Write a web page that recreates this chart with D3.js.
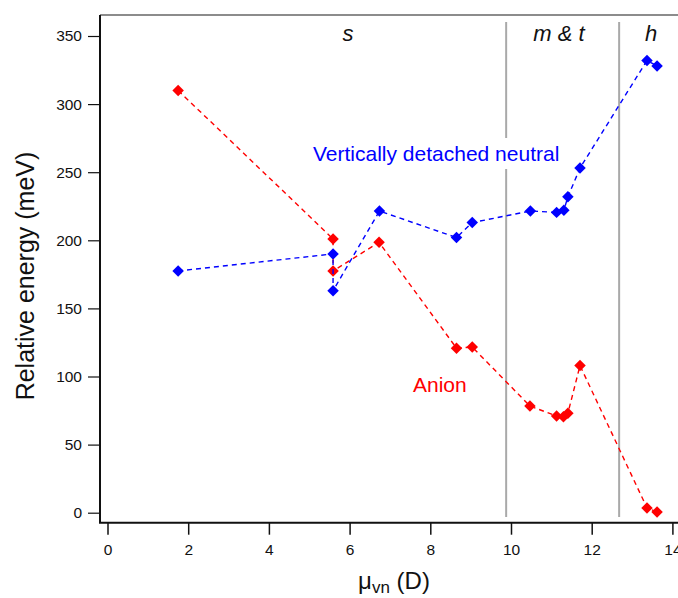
<!DOCTYPE html>
<html><head><meta charset="utf-8">
<script src="https://cdn.jsdelivr.net/npm/d3@7"></script>
<style>
html,body{margin:0;padding:0;background:#fff;}
svg{display:block;font-family:"Liberation Sans",Arial,sans-serif;}
</style></head>
<body>
<svg id="chart" width="678" height="598"></svg>
<script>
// ---- data ----
const neutralX = [1.75, 5.59, 5.59, 6.74, 8.65, 9.04, 10.48, 11.13, 11.31, 11.41, 11.71, 13.37, 13.62];
const neutralY = [177.5, 190, 163, 221.5, 202, 213, 221.5, 220.5, 222, 232, 253, 332, 328];
const anionX = [1.75, 5.59, 5.59, 6.73, 8.65, 9.04, 10.47, 11.13, 11.3, 11.41, 11.71, 13.37, 13.62];
const anionY = [310, 201, 177.5, 198.5, 120.8, 121.6, 78.3, 71, 70.5, 73, 108, 3.5, 0.5];
const xTicks = [0, 2, 4, 6, 8, 10, 12, 14];
const yTicks = [0, 50, 100, 150, 200, 250, 300, 350];
const regionBounds = [9.88, 12.68];
const regionLabels = ["s", "m & t", "h"];
const regionLabelX = [5.96, 11.19, 13.47];

const svg = d3.select("#chart");
const x = d3.scaleLinear().domain([0, 14]).range([107.5, 672.4]);
const y = d3.scaleLinear().domain([0, 350]).range([512.7, 36]);
const axisX = 100, axisY = 522.7, topY = 15;

// top frame line
svg.append("line").attr("x1", axisX).attr("x2", 678).attr("y1", topY).attr("y2", topY)
  .attr("stroke", "#8c8c8c").attr("stroke-width", 2);

// region separators
svg.selectAll("line.sep").data(regionBounds).enter().append("line")
  .attr("class", "sep")
  .attr("x1", d => x(d)).attr("x2", d => x(d))
  .attr("y1", 22).attr("y2", 517)
  .attr("stroke", "#a9a9a9").attr("stroke-width", 2);

// region labels
svg.selectAll("text.reg").data(regionLabels).enter().append("text")
  .attr("class", "reg")
  .attr("x", (d, i) => x(regionLabelX[i])).attr("y", 41)
  .attr("text-anchor", "middle").attr("font-size", 22).attr("font-style", "italic")
  .attr("fill", "#111").text(d => d);

// axes
const yAxis = d3.axisLeft(y).tickValues(yTicks).tickSize(12).tickPadding(6);
const gy = svg.append("g").attr("transform", `translate(${axisX},0)`).call(yAxis);
gy.select(".domain").remove();
gy.selectAll("text").attr("font-size", 15.5).attr("fill", "#111").attr("font-family", "Liberation Sans, Arial, sans-serif");
gy.selectAll("line").attr("stroke", "#111").attr("stroke-width", 1.2);

const xAxis = d3.axisBottom(x).tickValues(xTicks).tickSize(12).tickPadding(9);
const gx = svg.append("g").attr("transform", `translate(0,${axisY})`).call(xAxis);
gx.select(".domain").remove();
gx.selectAll("text").attr("font-size", 15.5).attr("fill", "#111").attr("font-family", "Liberation Sans, Arial, sans-serif");
gx.selectAll("line").attr("stroke", "#111").attr("stroke-width", 1.5);

svg.append("path").attr("d", `M${axisX},${topY}V${axisY}H678`)
  .attr("fill", "none").attr("stroke", "#111").attr("stroke-width", 2);

// axis titles
svg.append("text").attr("transform", "translate(34,276) rotate(-90)")
  .attr("text-anchor", "middle").attr("font-size", 25).attr("fill", "#111")
  .text("Relative energy (meV)");
const xt = svg.append("text").attr("x", 394).attr("y", 589)
  .attr("text-anchor", "middle").attr("font-size", 24).attr("fill", "#111");
xt.append("tspan").text("μ");
xt.append("tspan").attr("font-size", 17).attr("dy", 4).text("vn");
xt.append("tspan").attr("dy", -4).text(" (D)");

// series
function series(xs, ys, color) {
  const pts = xs.map((v, i) => [v, ys[i]]);
  const line = d3.line().x(d => x(d[0])).y(d => y(d[1]));
  svg.append("path").datum(pts).attr("d", line)
    .attr("fill", "none").attr("stroke", color).attr("stroke-width", 1.4)
    .attr("stroke-dasharray", "5,4");
  svg.append("g").selectAll("path").data(pts).enter().append("path")
    .attr("d", d3.symbol().type(d3.symbolSquare).size(66))
    .attr("transform", d => `translate(${x(d[0])},${y(d[1])}) rotate(45)`)
    .attr("fill", color);
}
series(anionX, anionY, "#ff0000");
series(neutralX, neutralY, "#0000ff");

// series labels with white background
function label(txt, px, py, color) {
  const g = svg.append("g");
  const r = g.append("rect").attr("fill", "#fff");
  const t = g.append("text").attr("x", px).attr("y", py)
    .attr("font-size", 21).attr("fill", color).text(txt);
  const b = t.node().getBBox();
  r.attr("x", b.x - 3).attr("y", b.y - 4).attr("width", b.width + 6).attr("height", b.height + 8);
}
label("Vertically detached neutral", 313, 161, "#0000ff");
label("Anion", 413, 392, "#ff0000");
</script>
</body></html>
